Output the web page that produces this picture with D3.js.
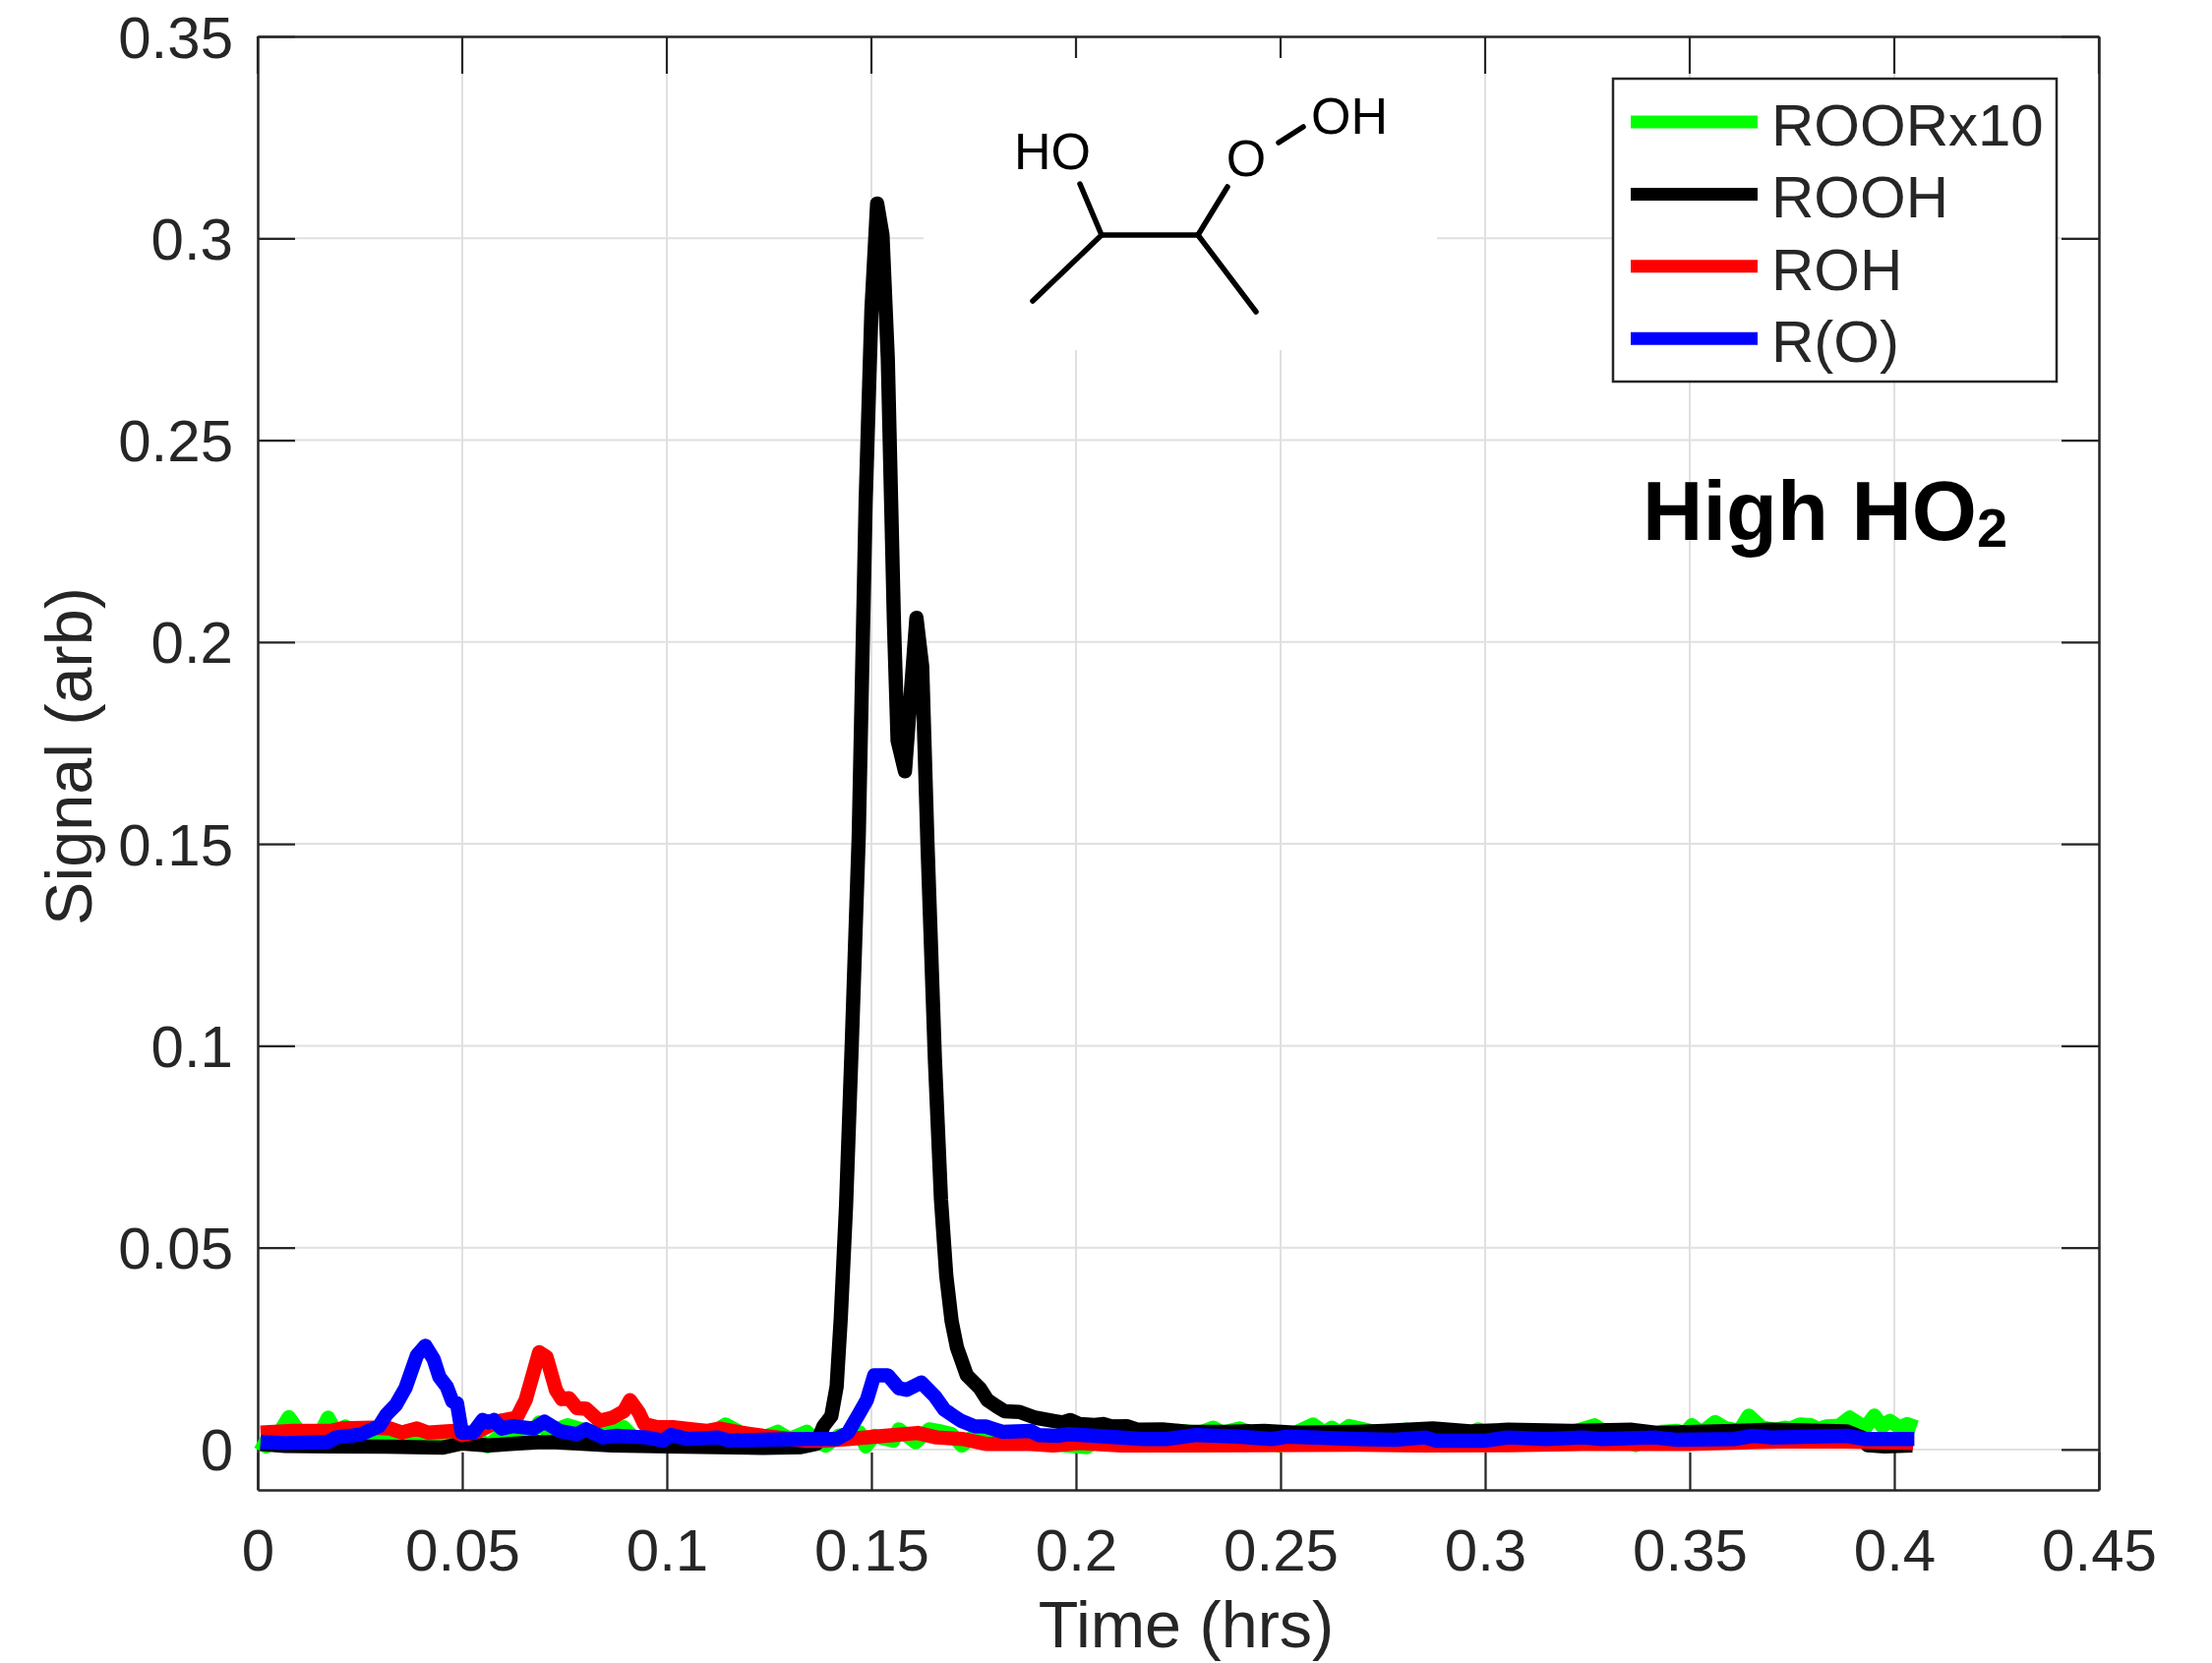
<!DOCTYPE html>
<html>
<head>
<meta charset="utf-8">
<script src="https://cdnjs.cloudflare.com/ajax/libs/d3/7.8.5/d3.min.js"></script>
<style>
  html, body { margin: 0; padding: 0; background: #fff; }
  svg { display: block; }
  text { font-family: "Liberation Sans", Arial, sans-serif; fill: #262626; }
</style>
</head>
<body>
<script>
// values, every series keeps its own time samples
var xTicks = [0, 0.05, 0.1, 0.15, 0.2, 0.25, 0.3, 0.35, 0.4, 0.45];
var yTicks = [0, 0.05, 0.1, 0.15, 0.2, 0.25, 0.3, 0.35];

var roorTime = [0.0000,0.0021,0.0048,0.0076,0.0103,0.0136,0.0154,0.0172,0.0191,0.0214,0.0237,0.0315,0.0389,0.0462,0.0536,0.0562,0.0591,0.0665,0.0688,0.0711,0.0757,0.0803,0.0844,0.0895,0.0922,0.1023,0.1106,0.1143,0.1180,0.1226,0.1271,0.1300,0.1342,0.1360,0.1388,0.1420,0.1471,0.1486,0.1507,0.1553,0.1567,0.1608,0.1641,0.1664,0.1696,0.1721,0.1751,0.1889,0.2027,0.2096,0.2115,0.2248,0.2303,0.2335,0.2358,0.2400,0.2450,0.2496,0.2529,0.2579,0.2607,0.2625,0.2644,0.2667,0.2720,0.2743,0.2761,0.2780,0.2807,0.2844,0.2904,0.2982,0.3028,0.3102,0.3120,0.3143,0.3184,0.3267,0.3295,0.3368,0.3405,0.3433,0.3470,0.3488,0.3505,0.3529,0.3562,0.3585,0.3621,0.3644,0.3677,0.3709,0.3732,0.3746,0.3769,0.3796,0.3815,0.3833,0.3865,0.3891,0.3916,0.3930,0.3951,0.3971,0.3989,0.4012,0.4031,0.4054];
var roorSignal = [0.0020,0.0008,0.0034,0.0080,0.0042,0.0044,0.0042,0.0079,0.0044,0.0057,0.0034,0.0034,0.0036,0.0030,0.0030,0.0008,0.0034,0.0036,0.0067,0.0042,0.0060,0.0046,0.0042,0.0055,0.0026,0.0042,0.0038,0.0062,0.0042,0.0026,0.0044,0.0026,0.0044,0.0026,0.0010,0.0034,0.0042,0.0008,0.0034,0.0022,0.0050,0.0018,0.0050,0.0046,0.0038,0.0010,0.0034,0.0018,0.0006,0.0058,0.0014,0.0046,0.0042,0.0054,0.0042,0.0052,0.0034,0.0010,0.0038,0.0062,0.0042,0.0054,0.0042,0.0058,0.0046,0.0038,0.0046,0.0038,0.0049,0.0034,0.0010,0.0050,0.0034,0.0046,0.0038,0.0046,0.0034,0.0060,0.0042,0.0011,0.0038,0.0044,0.0046,0.0040,0.0060,0.0042,0.0068,0.0054,0.0046,0.0084,0.0054,0.0049,0.0054,0.0052,0.0062,0.0060,0.0051,0.0057,0.0059,0.0079,0.0063,0.0055,0.0084,0.0057,0.0071,0.0055,0.0063,0.0055];

var roohTime = [0.0007,0.0067,0.0177,0.0315,0.0453,0.0499,0.0564,0.0683,0.0729,0.0867,0.1005,0.1235,0.1328,0.1365,0.1383,0.1402,0.1415,0.1425,0.1438,0.1452,0.1469,0.1486,0.1500,0.1514,0.1527,0.1540,0.1555,0.1564,0.1582,0.1610,0.1624,0.1637,0.1655,0.1670,0.1683,0.1696,0.1709,0.1733,0.1765,0.1783,0.1806,0.1825,0.1862,0.1900,0.1945,0.1967,0.1986,0.2009,0.2045,0.2068,0.2087,0.2124,0.2151,0.2211,0.2276,0.2367,0.2460,0.2533,0.2688,0.2752,0.2872,0.2964,0.3056,0.3212,0.3359,0.3424,0.3608,0.3700,0.3884,0.3921,0.3934,0.3976,0.4044];
var roohSignal = [0.0014,0.0009,0.0008,0.0007,0.0005,0.0015,0.0010,0.0018,0.0018,0.0010,0.0008,0.0004,0.0006,0.0014,0.0058,0.0083,0.0156,0.0324,0.0604,0.1006,0.1520,0.2350,0.2822,0.3086,0.3008,0.2703,0.2050,0.1756,0.1680,0.2060,0.1940,0.1500,0.0970,0.0620,0.0430,0.0318,0.0253,0.0184,0.0152,0.0123,0.0107,0.0095,0.0093,0.0079,0.0071,0.0067,0.0073,0.0063,0.0061,0.0063,0.0057,0.0058,0.0049,0.0050,0.0044,0.0044,0.0046,0.0042,0.0044,0.0046,0.0052,0.0045,0.0049,0.0046,0.0049,0.0041,0.0046,0.0049,0.0045,0.0030,0.0011,0.0008,0.0010];

var rohTime = [0.0007,0.0085,0.0177,0.0205,0.0278,0.0324,0.0352,0.0389,0.0416,0.0481,0.0499,0.0536,0.0591,0.0633,0.0655,0.0688,0.0706,0.0729,0.0743,0.0761,0.0780,0.0803,0.0835,0.0867,0.0895,0.0910,0.0932,0.0945,0.0977,0.1019,0.1051,0.1097,0.1129,0.1180,0.1235,0.1337,0.1383,0.1443,0.1512,0.1613,0.1659,0.1724,0.1779,0.1889,0.1944,0.2009,0.2110,0.2257,0.2688,0.2844,0.3056,0.3240,0.3350,0.3497,0.3718,0.3884,0.3976,0.4046];
var rohSignal = [0.0042,0.0046,0.0046,0.0052,0.0054,0.0052,0.0042,0.0052,0.0042,0.0046,0.0036,0.0044,0.0071,0.0079,0.0123,0.0241,0.0229,0.0147,0.0125,0.0127,0.0103,0.0101,0.0071,0.0079,0.0095,0.0122,0.0091,0.0063,0.0055,0.0055,0.0051,0.0046,0.0052,0.0042,0.0034,0.0022,0.0022,0.0026,0.0032,0.0041,0.0030,0.0026,0.0014,0.0014,0.0010,0.0016,0.0010,0.0010,0.0012,0.0010,0.0011,0.0014,0.0014,0.0014,0.0020,0.0020,0.0018,0.0016];

var roTime = [0.0007,0.0067,0.0172,0.0191,0.0251,0.0297,0.0315,0.0338,0.0361,0.0389,0.0410,0.0430,0.0444,0.0462,0.0476,0.0487,0.0499,0.0527,0.0550,0.0564,0.0577,0.0596,0.0623,0.0674,0.0701,0.0738,0.0780,0.0803,0.0844,0.0876,0.0950,0.0991,0.1010,0.1051,0.1125,0.1152,0.1235,0.1337,0.1415,0.1443,0.1471,0.1489,0.1507,0.1540,0.1567,0.1586,0.1622,0.1655,0.1678,0.1701,0.1719,0.1751,0.1779,0.1820,0.1889,0.1908,0.1954,0.1981,0.2073,0.2165,0.2220,0.2294,0.2395,0.2478,0.2515,0.2688,0.2780,0.2853,0.2881,0.3000,0.3056,0.3148,0.3240,0.3286,0.3414,0.3470,0.3608,0.3654,0.3700,0.3884,0.3930,0.4049];
var roSignal = [0.0019,0.0016,0.0019,0.0030,0.0037,0.0058,0.0087,0.0111,0.0152,0.0233,0.0257,0.0224,0.0180,0.0156,0.0119,0.0115,0.0042,0.0042,0.0073,0.0067,0.0073,0.0052,0.0058,0.0052,0.0069,0.0046,0.0038,0.0050,0.0030,0.0034,0.0030,0.0022,0.0036,0.0026,0.0030,0.0022,0.0024,0.0026,0.0026,0.0042,0.0091,0.0123,0.0184,0.0184,0.0152,0.0148,0.0166,0.0132,0.0099,0.0083,0.0071,0.0058,0.0057,0.0044,0.0046,0.0036,0.0034,0.0038,0.0032,0.0026,0.0026,0.0036,0.0032,0.0026,0.0032,0.0026,0.0024,0.0030,0.0022,0.0022,0.0030,0.0026,0.0030,0.0026,0.0030,0.0024,0.0026,0.0034,0.0030,0.0034,0.0026,0.0026];

var names = ["ROORx10", "ROOH", "ROH", "R(O)"];
var colors = ["#00ff00", "#000000", "#ff0000", "#0000ff"];
var times = [roorTime, roohTime, rohTime, roTime];
var signals = [roorSignal, roohSignal, rohSignal, roSignal];

var width = 2249, height = 1691;
var x = d3.scaleLinear().domain([0, 0.45]).range([262, 2134]);
var y = d3.scaleLinear().domain([-0.01, 0.35]).range([1515, 37]);

var svg = d3.select("body").append("svg")
  .attr("width", width)
  .attr("height", height);

svg.append("rect").attr("width", width).attr("height", height).attr("fill", "#fff");

// grid
svg.append("g").selectAll("line").data(xTicks.slice(1, -1)).enter().append("line")
  .attr("x1", x).attr("x2", x).attr("y1", y.range()[1]).attr("y2", y.range()[0])
  .attr("stroke", "#e0e0e0").attr("stroke-width", 2);
svg.append("g").selectAll("line").data(yTicks.slice(0, -1)).enter().append("line")
  .attr("x1", x.range()[0]).attr("x2", x.range()[1]).attr("y1", y).attr("y2", y)
  .attr("stroke", "#e0e0e0").attr("stroke-width", 2);

// axes, ticks point inward like matlab's box on
function fmt(d) { return String(d); }
var tickLen = 38;
function drawAxis(axis, tx, ty, labels) {
  var g = svg.append("g").attr("transform", "translate(" + tx + "," + ty + ")").call(axis);
  g.selectAll("path").attr("stroke", "#262626").attr("stroke-width", 2.5);
  g.selectAll("line").attr("stroke", "#262626").attr("stroke-width", 2.2);
  if (!labels) g.selectAll("text").remove();
  return g;
}
var bottom = drawAxis(d3.axisBottom(x).tickValues(xTicks).tickSize(-tickLen).tickSizeOuter(0).tickPadding(0).tickFormat(fmt), 0, 1515, true);
bottom.selectAll("text").attr("font-size", 60).attr("font-family", "Liberation Sans").attr("fill", "#262626")
  .attr("dy", 0).attr("y", 82);
var left = drawAxis(d3.axisLeft(y).tickValues(yTicks).tickSize(-tickLen).tickSizeOuter(0).tickFormat(fmt), 262, 0, true);
left.selectAll("text").attr("font-size", 60).attr("font-family", "Liberation Sans").attr("fill", "#262626")
  .attr("x", -25).attr("dy", "0.35em");
drawAxis(d3.axisRight(y).tickValues(yTicks).tickSize(-tickLen).tickSizeOuter(0), 2134, 0, false);

// white backing of the pasted molecule, stops short of the top edge
svg.append("rect").attr("x", 939).attr("y", 59).attr("width", 522).attr("height", 297).attr("fill", "#fff");

// top axis goes after the backing only where the backing leaves it visible
drawAxis(d3.axisTop(x).tickValues(xTicks).tickSize(0).tickSizeOuter(0), 0, 37, false);
svg.append("g").selectAll("line").data(xTicks).enter().append("line")
  .attr("x1", x).attr("x2", x).attr("y1", 37)
  .attr("y2", function(d) { return d == 0.2 || d == 0.25 ? 59 : 37 + tickLen; })
  .attr("stroke", "#262626").attr("stroke-width", 2.2);

svg.append("text").attr("x", 1206).attr("y", 1675).attr("text-anchor", "middle").attr("font-size", 66.5).text("Time (hrs)");
svg.append("text").attr("transform", "translate(93,769) rotate(-90)").attr("text-anchor", "middle").attr("font-size", 66.5).text("Signal (arb)");

// curves
var line = d3.line().x(function(d) { return x(d[0]); }).y(function(d) { return y(d[1]); });
names.forEach(function(name, i) {
  svg.append("path")
    .datum(d3.zip(times[i], signals[i]))
    .attr("d", line)
    .attr("fill", "none")
    .attr("stroke", colors[i])
    .attr("stroke-width", 14.5)
    .attr("stroke-linejoin", "round");
});

// legend
var legend = svg.append("g");
legend.append("rect").attr("x", 1640).attr("y", 80).attr("width", 451).attr("height", 308)
  .attr("fill", "#fff").attr("stroke", "#262626").attr("stroke-width", 2.5);
names.forEach(function(name, i) {
  var ly = 124 + i * 73.4;
  legend.append("line").attr("x1", 1658).attr("x2", 1787).attr("y1", ly).attr("y2", ly)
    .attr("stroke", colors[i]).attr("stroke-width", 13);
  legend.append("text").attr("x", 1801).attr("y", ly + 24).attr("font-size", 60).attr("fill", "#000").text(name);
});

// annotation
var note = svg.append("text").attr("x", 1670).attr("y", 549).attr("font-size", 85).attr("font-weight", "bold").style("fill", "#000");
note.append("tspan").text("High HO");
note.append("tspan").attr("font-size", 56).attr("dy", 7).text("2");

// molecule sketch
var bonds = [[1098,187,1120,239],[1120,239,1218,239],[1218,239,1248,190],[1120,239,1050,306],[1218,239,1277,317],[1300,145,1325,129]];
svg.append("g").selectAll("line").data(bonds).enter().append("line")
  .attr("x1", function(d) { return d[0]; }).attr("y1", function(d) { return d[1]; })
  .attr("x2", function(d) { return d[2]; }).attr("y2", function(d) { return d[3]; })
  .attr("stroke", "#000").attr("stroke-width", 5.5).attr("stroke-linecap", "round");
var atoms = [["HO",1070,172],["O",1267,179],["OH",1372,136]];
svg.append("g").selectAll("text").data(atoms).enter().append("text")
  .attr("x", function(d) { return d[1]; }).attr("y", function(d) { return d[2]; })
  .attr("text-anchor", "middle").attr("font-size", 52).style("fill", "#000")
  .text(function(d) { return d[0]; });
</script>
</body>
</html>
